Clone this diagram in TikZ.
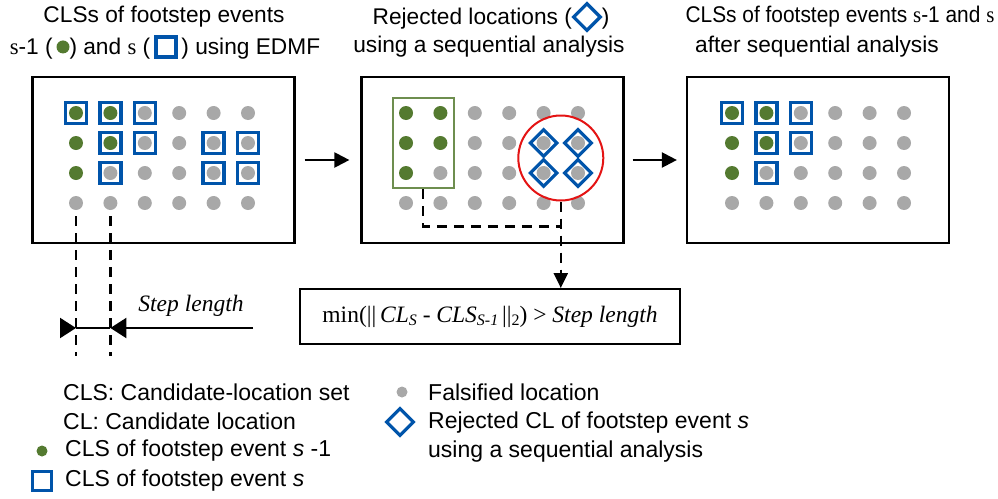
\documentclass[tikz,border=0pt]{standalone}
\usepackage{fontspec}
\setmainfont{Liberation Sans}
\newfontfamily\serifs{Liberation Serif}
\usetikzlibrary{arrows.meta,shapes.geometric,calc,fit}
\definecolor{cblue}{RGB}{0,84,170}
\definecolor{cgreen}{RGB}{84,122,48}
\definecolor{cgray}{RGB}{168,168,168}
\definecolor{cred}{RGB}{228,20,20}
\newcommand\mysub[1]{\raisebox{-0.35ex}{\fontsize{16}{16}\selectfont #1}}
\begin{document}
\begin{tikzpicture}[x=1pt,y=-1pt,
 panel/.style={draw,line width=2.2pt,minimum width=262pt,minimum height=166pt,inner sep=0},
 gdot/.style={circle,fill=cgreen,minimum size=14pt,inner sep=0},
 fdot/.style={circle,fill=cgray,minimum size=14pt,inner sep=0},
 bsq/.style={draw=cblue,line width=3.4pt,minimum size=21pt,inner sep=0},
 rdia/.style={diamond,draw=cblue,line width=3.2pt,minimum size=28pt,inner sep=0},
 ttl/.style={font=\fontsize{22.7}{30}\selectfont,inner sep=0},
 leg/.style={anchor=west,align=left,font=\fontsize{23}{29}\selectfont,inner sep=0},
 conn/.style={line width=2.2pt,-{Triangle[length=15pt,width=15pt]}},
 dsh/.style={line width=2.4pt,dash pattern=on 10pt off 7pt},
 sline/.style={line width=2.2pt}
]
\useasboundingbox (0,0) rectangle (998,498);
% titles
\node[ttl] (t1a) at (164,17) {CLSs of footstep events};
\node[ttl] (t1b) at (165,47) {{\serifs s}-1 (\,\tikz[baseline=-0.6ex]\fill[cgreen] (0,0) circle (6.5pt);) and {\serifs s} (\,\tikz[baseline=-0.6ex]\draw[cblue,line width=3.6pt] (-10pt,-10pt) rectangle (10pt,10pt);\,) using EDMF};
\node[ttl] (t2a) at (491,17) {Rejected locations (\tikz[baseline=-0.6ex]\node[rdia,minimum size=28pt]{};)};
\node[ttl] (t2b) at (489,47) {using a sequential analysis};
\node[ttl] (t3a) at (840,17) {\scalebox{0.92}[1]{CLSs of footstep events {\serifs s}-1 and {\serifs s}}};
\node[ttl] (t3b) at (817,47) {after sequential analysis};
% panels
\node[panel] (p1) at (163.5,160) {};
\node[panel] (p2) at (492.5,160) {};
\node[panel] (p3) at (818,160) {};
% dots
\foreach \p/\xo in {1/76,2/406,3/732}{
 \foreach \c in {1,...,6}{
  \foreach \r in {1,...,4}{
   \pgfmathtruncatemacro\isg{((\c<=2)&&(\r<=2))||((\c==1)&&(\r==3))}
   \pgfmathsetmacro\xx{\xo+(\c-1)*34.4}
   \pgfmathsetmacro\yy{113+(\r-1)*30}
   \ifnum\isg=1
    \node[gdot] (p\p d\c\r) at (\xx,\yy) {};
   \else
    \node[fdot] (p\p d\c\r) at (\xx,\yy) {};
   \fi
  }}}
% squares
\foreach \c/\r in {1/1,2/1,3/1,2/2,3/2,5/2,6/2,2/3,5/3,6/3}
 \node[bsq] (p1s\c\r) at (p1d\c\r) {};
\foreach \c/\r in {1/1,2/1,3/1,2/2,3/2,2/3}
 \node[bsq] (p3s\c\r) at (p3d\c\r) {};
% diamonds
\foreach \c/\r in {5/2,6/2,5/3,6/3}
 \node[rdia] (p2r\c\r) at (p2d\c\r) {};
% green group and red circle
\node[draw=cgreen!85!white,line width=1.8pt,fit=(p2d11)(p2d23),inner xsep=6pt,inner ysep=8pt] (grp) {};
\node[circle,draw=cred,line width=2pt,minimum size=85pt,inner sep=0] (rej) at ($(p2d52)!0.5!(p2d63)$) {};
% arrows between panels
\draw[conn] ($(p1.east)+(9,0)$) -- ($(p2.west)+(-11,0)$);
\draw[conn] ($(p2.east)+(8,0)$) -- ($(p3.west)+(-9,0)$);
% formula
\node[draw,line width=2pt,minimum width=380pt,minimum height=55pt,inner sep=0] (form) at (490,316.5)
 {\serifs\fontsize{23.5}{23.5}\selectfont min(||\,\textit{CL}\mysub{\textit{S}} - \textit{CLS}\mysub{\textit{S-1}}\,||\mysub{2}) > \textit{Step length}};
\draw[dsh] (grp.south) |- ($(rej.south)+(0,25)$);
\draw[dsh] (rej.south) -- ($(rej.south |- form.north)+(0,-14)$);
\draw[sline,-{Triangle[length=15pt,width=14pt]}] ($(rej.south |- form.north)+(0,-17)$) -- (rej.south |- form.north);
% step length
\coordinate (slE) at (253,328);
\draw[dsh] ($(p1d14)+(0,13)$) -- (p1d14 |- 0,356);
\draw[dsh] ($(p1d24)+(0,13)$) -- (p1d24 |- 0,356);
\draw[sline,-{Triangle[length=16pt,width=20pt]}] (slE) -- (p1d24 |- slE);
\draw[sline] (p1d14 |- slE) -- (p1d24 |- slE);
\draw[sline,-{Triangle[length=16pt,width=20pt]}] ($(p1d14 |- slE)+(-16,0)$) -- (p1d14 |- slE);
\node[font=\serifs\itshape\fontsize{23.5}{23.5}\selectfont,inner sep=0] (slt) at (191,306) {Step length};
% legend
\node[leg] (l1) at (63,392) {CLS: Candidate-location set};
\node[leg] (l2) at (63,421) {CL: Candidate location};
\node[gdot,minimum size=11pt] (lg) at (42,451) {};
\node[leg] (l3) at (65,451) {CLS of footstep event \textit{s} -1};
\node[bsq,minimum size=19pt,line width=3.2pt] (lb) at (42,481) {};
\node[leg] (l4) at (65,481) {CLS of footstep event \textit{s}};
\node[fdot,minimum size=11pt] (lf) at (402,392) {};
\node[leg] (l5) at (428,392) {Falsified location};
\node[rdia,minimum size=28pt] (ld) at (400,422) {};
\node[leg] (l6) at (428,437) {Rejected CL of footstep event \textit{s}\\using a sequential analysis};
\end{tikzpicture}
\end{document}
